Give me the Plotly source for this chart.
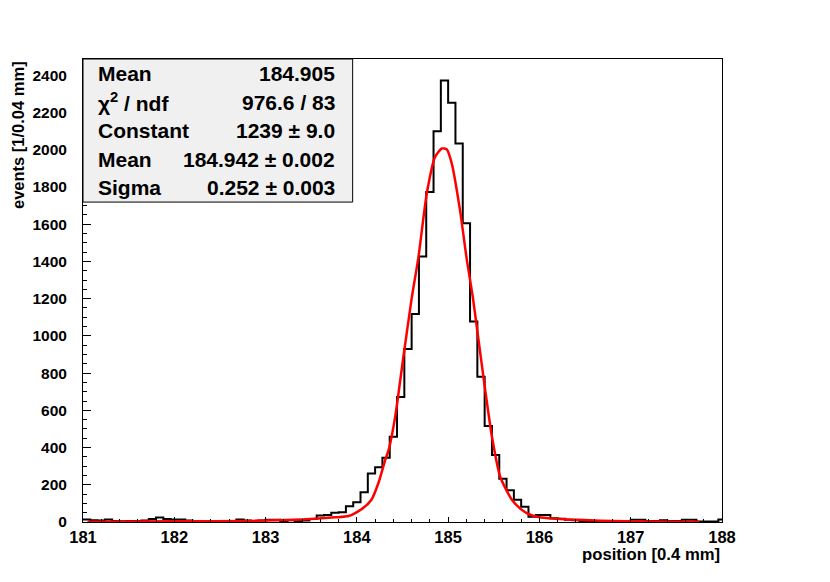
import numpy as np
import plotly.graph_objects as go

# -------------------------------
# DATA
# -------------------------------
# histogram: bins of 0.08 starting at 181, last one is cut by the frame at 188
bin_start = 181.0
bin_width = 0.08
counts = [
    14, 10, 8, 14, 6, 4, 5, 5, 8, 16,
    24, 16, 14, 14, 8, 6, 6, 6, 4, 5,
    4, 14, 8, 6, 8, 12, 12, 5, 10, 5,
    8, 16, 35, 38, 50, 53, 85, 106, 160, 260,
    294, 345, 458, 672, 929, 1118, 1427, 1773, 2100, 2372,
    2253, 2034, 1606, 1078, 780, 516, 360, 232, 170, 120,
    82, 28, 38, 38, 20, 18, 12, 10, 6, 4,
    4, 4, 4, 4, 4, 12, 12, 5, 5, 10,
    5, 5, 12, 12, 3, 3, 3, 14,
]

# red fit curve
fit_x = [181.05, 182.0, 182.85, 183.4, 183.76, 183.91, 184.05, 184.16, 184.24, 184.31,
         184.35, 184.42, 184.51, 184.60, 184.675, 184.766, 184.857, 184.93, 184.986, 185.04,
         185.13, 185.205, 185.27, 185.333, 185.406, 185.48, 185.57, 185.70, 185.80, 185.88,
         185.97, 186.1, 186.3, 186.67, 187.2, 187.75]
fit_y = [2, 4, 6, 14, 25, 32, 68, 120, 215, 333,
         390, 566, 888, 1200, 1425, 1765, 1962, 2007, 2002, 1926,
         1676, 1407, 1210, 977, 709, 458, 243, 118, 68, 43,
         28, 20, 14, 7, 3, 1]

x_ticks = [181, 182, 183, 184, 185, 186, 187, 188]
y_ticks = [0, 200, 400, 600, 800, 1000, 1200, 1400, 1600, 1800, 2000, 2200, 2400]

stat_labels = ["Mean", "χ<sup>2</sup> / ndf", "Constant", "Mean", "Sigma"]
stat_values = ["184.905", "976.6 / 83", "1239 ± 9.0", "184.942 ± 0.002", "0.252 ± 0.003"]

# -------------------------------
# PLOT
# -------------------------------
edges = bin_start + bin_width * np.arange(len(counts) + 1)
FONT = "Liberation Sans, Arial, sans-serif"

fig = go.Figure()

fig.add_trace(go.Scatter(
    x=edges,
    y=counts + [counts[-1]],
    mode="lines",
    line=dict(color="black", width=2, shape="hv"),
    hoverinfo="skip",
))

fig.add_trace(go.Scatter(
    x=fit_x,
    y=fit_y,
    mode="lines",
    line=dict(color="#ff0000", width=2.5, shape="spline", smoothing=0.6),
    hoverinfo="skip",
))

axis_common = dict(
    showgrid=False, zeroline=False,
    showline=True, linecolor="black", linewidth=1, mirror=True,
    ticks="inside", tickcolor="black", tickwidth=1,
)

fig.update_xaxes(
    range=[181, 188], tickvals=x_ticks, ticklen=5,
    minor=dict(dtick=0.2, ticks="inside", ticklen=3, tickcolor="black"),
    ticklabelstandoff=0,
    tickfont=dict(family=FONT, size=16.5, color="black", weight="bold"),
    **axis_common,
)
fig.update_yaxes(
    range=[0, 2488], tickvals=y_ticks, ticklen=8,
    minor=dict(dtick=50, ticks="inside", ticklen=4, tickcolor="black"),
    ticklabelstandoff=12,
    tickfont=dict(family=FONT, size=15.5, color="black", weight="bold"),
    **axis_common,
)

# stat box
fig.add_shape(type="rect", xref="paper", yref="paper",
              x0=0, x1=0.422, y0=0.691, y1=1,
              fillcolor="#f0f0f0", line=dict(color="black", width=1), layer="above")

row_y = [0.969, 0.907, 0.846, 0.784, 0.722]
for lab, val, yy in zip(stat_labels, stat_values, row_y):
    fig.add_annotation(xref="paper", yref="paper", x=0.0203, y=yy, text="<b>" + lab + "</b>",
                       showarrow=False, xanchor="left", yanchor="middle",
                       font=dict(family=FONT, size=21, color="black"))
    fig.add_annotation(xref="paper", yref="paper", x=0.3975, y=yy, text="<b>" + val + "</b>",
                       showarrow=False, xanchor="right", yanchor="middle",
                       font=dict(family=FONT, size=21, color="black"))

# axis titles
fig.add_annotation(xref="paper", yref="paper", x=-0.1017, y=1.0, text="<b>events [1/0.04 mm]</b>",
                   textangle=-90, showarrow=False, xanchor="center", yanchor="top",
                   font=dict(family=FONT, size=16.5, color="black"))
fig.add_annotation(xref="paper", yref="paper", x=1.0, y=-0.071, text="<b>position [0.4 mm]</b>",
                   showarrow=False, xanchor="right", yanchor="middle",
                   font=dict(family=FONT, size=16.7, color="black"))

# page has an 8px body margin, so margins are pulled in by 8px
fig.update_layout(
    width=830, height=582,
    margin=dict(l=75, r=116, t=51, b=68),
    paper_bgcolor="white", plot_bgcolor="white",
    showlegend=False,
)

fig.write_html("out.html")
